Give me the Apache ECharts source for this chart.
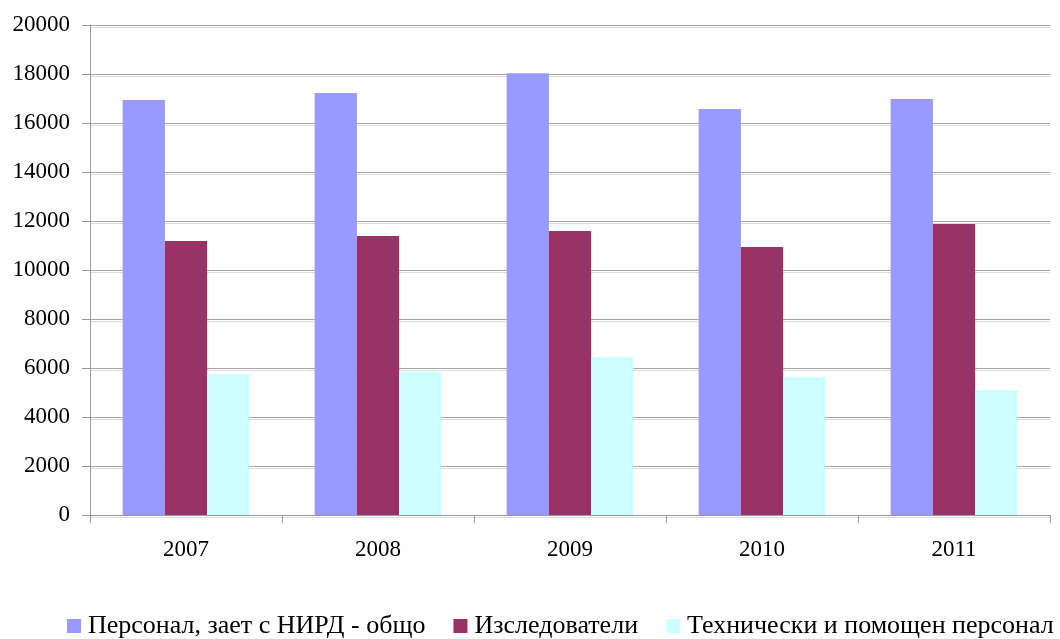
<!DOCTYPE html>
<html>
<head>
<meta charset="utf-8">
<script src="https://cdn.jsdelivr.net/npm/echarts@6/dist/echarts.min.js"></script>
<style>html,body{margin:0;padding:0;background:#fff}#c{width:1060px;height:639px}</style>
</head>
<body>
<div id="c"></div>
<script>
const categories = ['2007', '2008', '2009', '2010', '2011'];
const seriesNames = ['Персонал, зает с НИРД - общо', 'Изследователи', 'Технически и помощен персонал'];
const totalStaff = [16940, 17220, 18030, 16570, 16980];
const researchers = [11180, 11390, 11590, 10940, 11880];
const technical = [5750, 5840, 6450, 5630, 5100];
const yTicks = [0, 2000, 4000, 6000, 8000, 10000, 12000, 14000, 16000, 18000, 20000];

const colors = ['#9999FF', '#993366', '#CCFFFF'];
const chart = echarts.init(document.getElementById('c'));
const font = 'Times New Roman, Liberation Serif, serif';
chart.setOption({
  animation: false,
  textStyle: { fontFamily: font },
  grid: { left: 90, right: 10, top: 25, bottom: 124, containLabel: false },
  legend: {
    bottom: 0,
    left: 67,
    padding: 0,
    itemWidth: 14,
    itemHeight: 14,
    itemGap: 28,
    icon: 'rect',
    textStyle: { fontFamily: font, fontSize: 26, color: '#000', padding: [0, 0, 0, 2] },
    data: seriesNames
  },
  xAxis: {
    type: 'category',
    data: categories,
    axisLine: { lineStyle: { color: '#999999', width: 1 } },
    axisTick: { show: true, alignWithLabel: false, length: 8, lineStyle: { color: '#999999' } },
    axisLabel: { color: '#000', fontSize: 23, fontFamily: font, margin: 23 },
    splitLine: { show: false }
  },
  yAxis: {
    type: 'value',
    min: yTicks[0],
    max: yTicks[yTicks.length - 1],
    interval: 2000,
    axisLine: { show: true, lineStyle: { color: '#999999', width: 1 } },
    axisTick: { show: true, length: 8, inside: false, lineStyle: { color: '#999999' } },
    axisLabel: { color: '#000', fontSize: 23, fontFamily: font, margin: 20, formatter: v => String(v) },
    splitLine: { show: true, lineStyle: { color: '#a6a6a6', width: 1, shadowColor: '#dcdcdc', shadowOffsetY: 2, shadowBlur: 0 } }
  },
  series: [
    { name: seriesNames[0], type: 'bar', data: totalStaff, itemStyle: { color: colors[0] }, barGap: '0%', barCategoryGap: '34%' },
    { name: seriesNames[1], type: 'bar', data: researchers, itemStyle: { color: colors[1] }, barGap: '0%', barCategoryGap: '34%' },
    { name: seriesNames[2], type: 'bar', data: technical, itemStyle: { color: colors[2] }, barGap: '0%', barCategoryGap: '34%' }
  ]
});
</script>
</body>
</html>
